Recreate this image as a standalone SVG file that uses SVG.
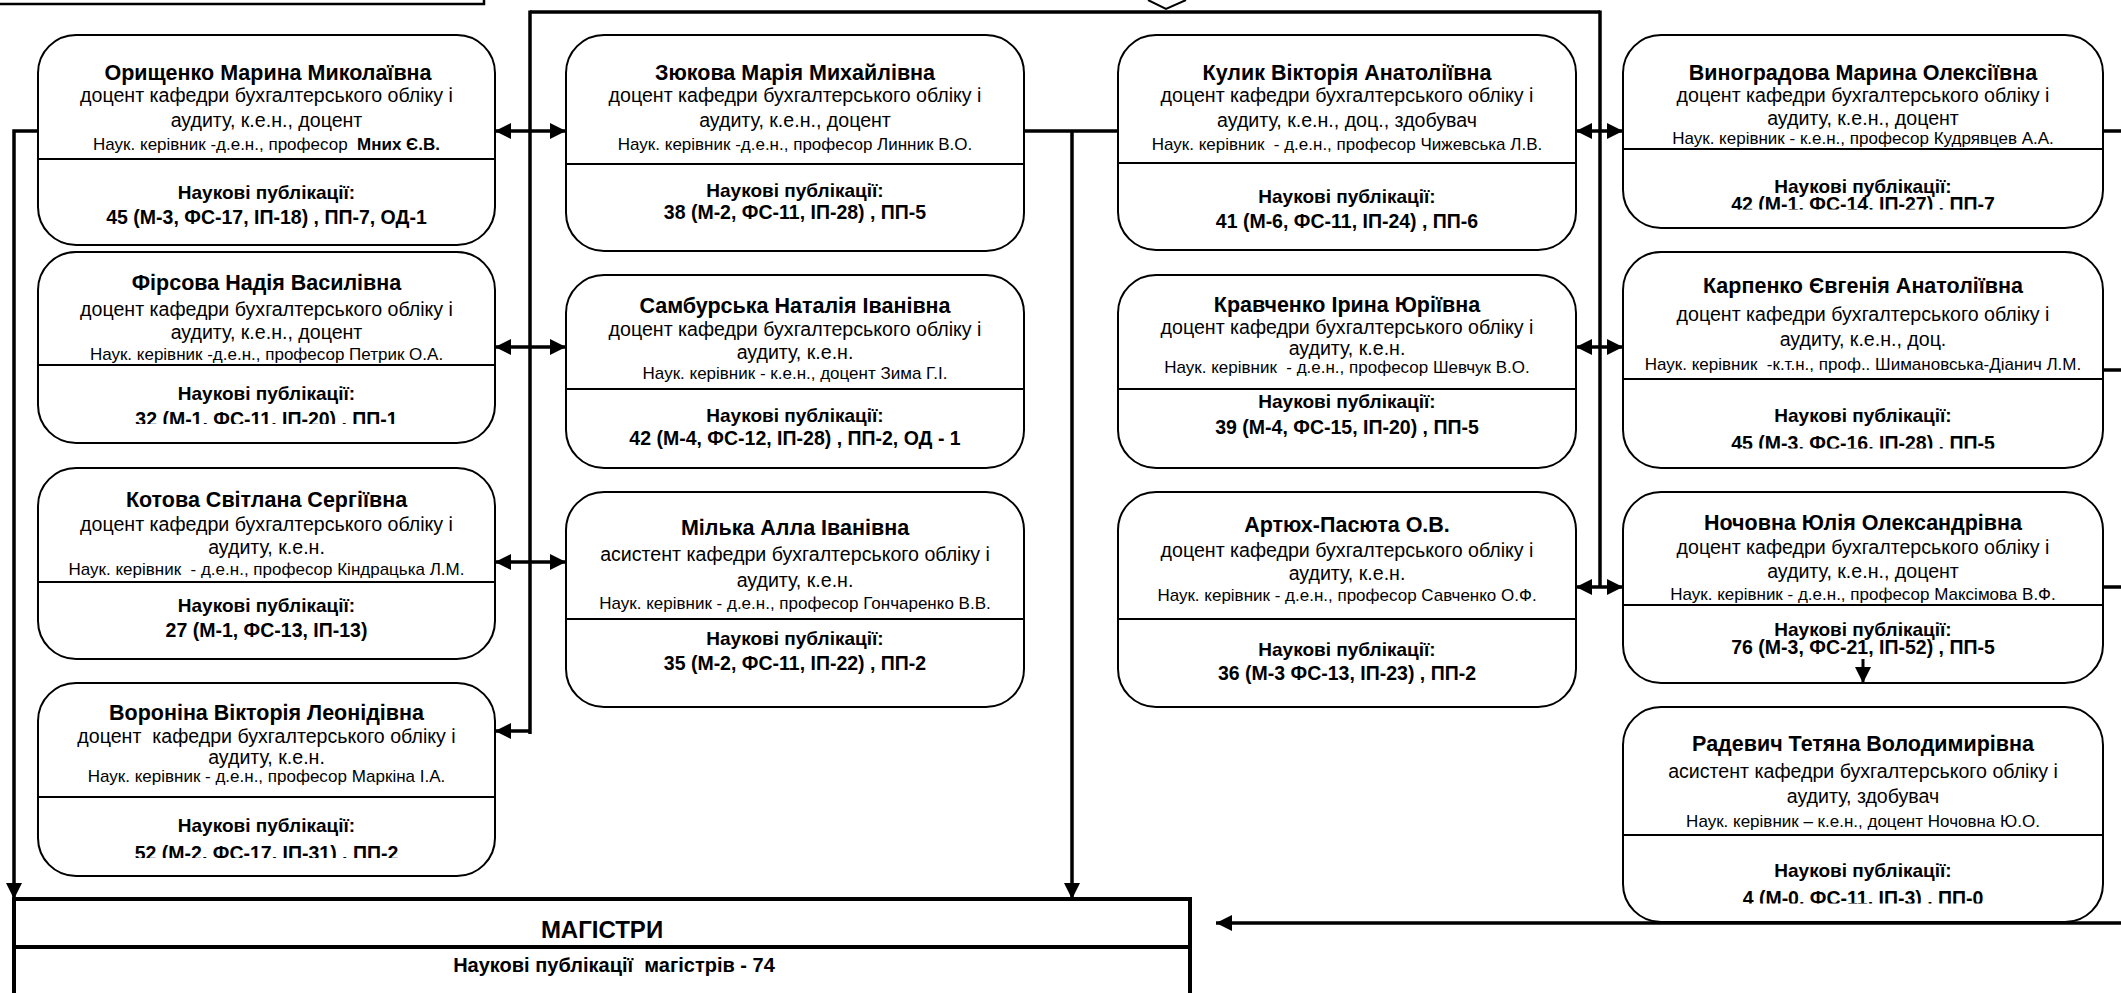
<svg xmlns="http://www.w3.org/2000/svg" width="2121" height="993" viewBox="0 0 2121 993">
<style>
text{white-space:pre;font-family:"Liberation Sans",Arial,sans-serif;text-anchor:middle;fill:#000}
.box{fill:#fff;stroke:#000;stroke-width:2}
.dv{stroke:#000;stroke-width:2}
.nm{font-size:21.5px;font-weight:bold}
.tx{font-size:19.6px}
.sv{font-size:17px}
.pt{font-size:19px;font-weight:bold}
.pn{font-size:19.5px;font-weight:bold}
.ln{fill:none;stroke:#000;stroke-width:3.5}
.b{font-weight:bold}
</style>
<defs>
<marker id="ah" markerUnits="userSpaceOnUse" markerWidth="16" markerHeight="16" refX="14" refY="7" orient="auto-start-reverse" viewBox="0 0 14 14">
<path d="M0,0 L14,7 L0,14 z" fill="#000"/>
</marker>
<clipPath id="c2"><rect x="38" y="365" width="458" height="59"/></clipPath>
<clipPath id="c4"><rect x="38" y="797" width="458" height="61"/></clipPath>
<clipPath id="c11"><rect x="1623" y="149" width="480" height="60.5"/></clipPath>
<clipPath id="c12"><rect x="1623" y="379" width="480" height="69.5"/></clipPath>
<clipPath id="c14"><rect x="1623" y="835" width="480" height="68.5"/></clipPath>
</defs>

<g id="top-box">
<rect x="-5" y="-60" width="489" height="64" fill="#fff" stroke="#000" stroke-width="2.5"/>
</g>
<g id="top-chevron">
<polyline points="1148,0 1166,9 1186,0" fill="none" stroke="#000" stroke-width="2"/>
</g>

<g id="connectors">
<polyline class="ln" points="530,12 1600,12"/>
<line class="ln" x1="530" y1="10.5" x2="530" y2="734"/>
<line class="ln" x1="1600" y1="10.5" x2="1600" y2="587"/>
<line class="ln" x1="495" y1="131" x2="566" y2="131" marker-start="url(#ah)" marker-end="url(#ah)"/>
<line class="ln" x1="495" y1="347" x2="566" y2="347" marker-start="url(#ah)" marker-end="url(#ah)"/>
<line class="ln" x1="495" y1="562" x2="566" y2="562" marker-start="url(#ah)" marker-end="url(#ah)"/>
<line class="ln" x1="530" y1="731" x2="495" y2="731" marker-end="url(#ah)"/>
<polyline class="ln" points="38,131 14,131 14,899" marker-end="url(#ah)"/>
<line class="ln" x1="1024" y1="131" x2="1118" y2="131"/>
<line class="ln" x1="1072" y1="131" x2="1072" y2="899" marker-end="url(#ah)"/>
<line class="ln" x1="1576" y1="131" x2="1623" y2="131" marker-start="url(#ah)" marker-end="url(#ah)"/>
<line class="ln" x1="1576" y1="347" x2="1623" y2="347" marker-start="url(#ah)" marker-end="url(#ah)"/>
<line class="ln" x1="1576" y1="587" x2="1623" y2="587" marker-start="url(#ah)" marker-end="url(#ah)"/>
<line class="ln" x1="2103" y1="131" x2="2121" y2="131"/>
<line class="ln" x1="2103" y1="370" x2="2121" y2="370"/>
<line class="ln" x1="2103" y1="587" x2="2121" y2="587"/>
<line class="ln" x1="2121" y1="923" x2="1216" y2="923" marker-end="url(#ah)"/>
</g>

<g id="n-oryshchenko">
<rect class="box" x="38" y="35" width="457" height="210" rx="38"/>
<line class="dv" x1="38" y1="159" x2="495" y2="159"/>
<text class="nm" x="268" y="80">Орищенко Марина Миколаївна</text>
<text class="tx" x="266.5" y="102">доцент кафедри бухгалтерського обліку і</text>
<text class="tx" x="266.5" y="127">аудиту, к.е.н., доцент</text>
<text class="sv" x="266.5" y="150">Наук. керівник -д.е.н., професор  <tspan class="b">Мних Є.В.</tspan></text>
<text class="pt" x="266.5" y="199">Наукові публікації:</text>
<text class="pn" x="266.5" y="224">45 (М-3, ФС-17, ІП-18) , ПП-7, ОД-1</text>
</g>

<g id="n-firsova">
<rect class="box" x="38" y="252" width="457" height="191" rx="38"/>
<line class="dv" x1="38" y1="365" x2="495" y2="365"/>
<text class="nm" x="266.5" y="290">Фірсова Надія Василівна</text>
<text class="tx" x="266.5" y="316">доцент кафедри бухгалтерського обліку і</text>
<text class="tx" x="266.5" y="339">аудиту, к.е.н., доцент</text>
<text class="sv" x="266.5" y="360">Наук. керівник -д.е.н., професор Петрик О.А.</text>
<text class="pt" x="266.5" y="400">Наукові публікації:</text>
<text class="pn" x="266.5" y="426" clip-path="url(#c2)">32 (М-1, ФС-11, ІП-20) , ПП-1</text>
</g>

<g id="n-kotova">
<rect class="box" x="38" y="468" width="457" height="191" rx="38"/>
<line class="dv" x1="38" y1="582" x2="495" y2="582"/>
<text class="nm" x="266.5" y="507">Котова Світлана Сергіївна</text>
<text class="tx" x="266.5" y="531">доцент кафедри бухгалтерського обліку і</text>
<text class="tx" x="266.5" y="554">аудиту, к.е.н.</text>
<text class="sv" x="266.5" y="575">Наук. керівник  - д.е.н., професор Кіндрацька Л.М.</text>
<text class="pt" x="266.5" y="612">Наукові публікації:</text>
<text class="pn" x="266.5" y="637">27 (М-1, ФС-13, ІП-13)</text>
</g>

<g id="n-voronina">
<rect class="box" x="38" y="683" width="457" height="193" rx="38"/>
<line class="dv" x1="38" y1="797" x2="495" y2="797"/>
<text class="nm" x="266.5" y="720">Вороніна Вікторія Леонідівна</text>
<text class="tx" x="266.5" y="743">доцент  кафедри бухгалтерського обліку і</text>
<text class="tx" x="266.5" y="764">аудиту, к.е.н.</text>
<text class="sv" x="266.5" y="782">Наук. керівник - д.е.н., професор Маркіна І.А.</text>
<text class="pt" x="266.5" y="832">Наукові публікації:</text>
<text class="pn" x="266.5" y="860" clip-path="url(#c4)">52 (М-2, ФС-17, ІП-31) , ПП-2</text>
</g>

<g id="n-ziukova">
<rect class="box" x="566" y="35" width="458" height="216" rx="38"/>
<line class="dv" x1="566" y1="164" x2="1024" y2="164"/>
<text class="nm" x="795" y="80">Зюкова Марія Михайлівна</text>
<text class="tx" x="795" y="102">доцент кафедри бухгалтерського обліку і</text>
<text class="tx" x="795" y="127">аудиту, к.е.н., доцент</text>
<text class="sv" x="795" y="150">Наук. керівник -д.е.н., професор Линник В.О.</text>
<text class="pt" x="795" y="197">Наукові публікації:</text>
<text class="pn" x="795" y="219">38 (М-2, ФС-11, ІП-28) , ПП-5</text>
</g>

<g id="n-samburska">
<rect class="box" x="566" y="275" width="458" height="193" rx="38"/>
<line class="dv" x1="566" y1="389" x2="1024" y2="389"/>
<text class="nm" x="795" y="313">Самбурська Наталія Іванівна</text>
<text class="tx" x="795" y="336">доцент кафедри бухгалтерського обліку і</text>
<text class="tx" x="795" y="359">аудиту, к.е.н.</text>
<text class="sv" x="795" y="379">Наук. керівник - к.е.н., доцент Зима Г.І.</text>
<text class="pt" x="795" y="422">Наукові публікації:</text>
<text class="pn" x="795" y="445">42 (М-4, ФС-12, ІП-28) , ПП-2, ОД - 1</text>
</g>

<g id="n-milka">
<rect class="box" x="566" y="492" width="458" height="215" rx="38"/>
<line class="dv" x1="566" y1="619" x2="1024" y2="619"/>
<text class="nm" x="795" y="535">Мілька Алла Іванівна</text>
<text class="tx" x="795" y="561">асистент кафедри бухгалтерського обліку і</text>
<text class="tx" x="795" y="587">аудиту, к.е.н.</text>
<text class="sv" x="795" y="609">Наук. керівник - д.е.н., професор Гончаренко В.В.</text>
<text class="pt" x="795" y="645">Наукові публікації:</text>
<text class="pn" x="795" y="670">35 (М-2, ФС-11, ІП-22) , ПП-2</text>
</g>

<g id="n-kulyk">
<rect class="box" x="1118" y="35" width="458" height="215" rx="38"/>
<line class="dv" x1="1118" y1="163" x2="1576" y2="163"/>
<text class="nm" x="1347" y="80">Кулик Вікторія Анатоліївна</text>
<text class="tx" x="1347" y="102">доцент кафедри бухгалтерського обліку і</text>
<text class="tx" x="1347" y="127">аудиту, к.е.н., доц., здобувач</text>
<text class="sv" x="1347" y="150">Наук. керівник  - д.е.н., професор Чижевська Л.В.</text>
<text class="pt" x="1347" y="203">Наукові публікації:</text>
<text class="pn" x="1347" y="228">41 (М-6, ФС-11, ІП-24) , ПП-6</text>
</g>

<g id="n-kravchenko">
<rect class="box" x="1118" y="275" width="458" height="193" rx="38"/>
<line class="dv" x1="1118" y1="389" x2="1576" y2="389"/>
<text class="nm" x="1347" y="312">Кравченко Ірина Юріївна</text>
<text class="tx" x="1347" y="334">доцент кафедри бухгалтерського обліку і</text>
<text class="tx" x="1347" y="355">аудиту, к.е.н.</text>
<text class="sv" x="1347" y="373">Наук. керівник  - д.е.н., професор Шевчук В.О.</text>
<text class="pt" x="1347" y="408">Наукові публікації:</text>
<text class="pn" x="1347" y="434">39 (М-4, ФС-15, ІП-20) , ПП-5</text>
</g>

<g id="n-artiukh-pasiuta">
<rect class="box" x="1118" y="492" width="458" height="215" rx="38"/>
<line class="dv" x1="1118" y1="619" x2="1576" y2="619"/>
<text class="nm" x="1347" y="532">Артюх-Пасюта О.В.</text>
<text class="tx" x="1347" y="557">доцент кафедри бухгалтерського обліку і</text>
<text class="tx" x="1347" y="580">аудиту, к.е.н.</text>
<text class="sv" x="1347" y="601">Наук. керівник - д.е.н., професор Савченко О.Ф.</text>
<text class="pt" x="1347" y="656">Наукові публікації:</text>
<text class="pn" x="1347" y="680">36 (М-3 ФС-13, ІП-23) , ПП-2</text>
</g>

<g id="n-vynohradova">
<rect class="box" x="1623" y="35" width="480" height="193" rx="38"/>
<line class="dv" x1="1623" y1="149" x2="2103" y2="149"/>
<text class="nm" x="1863" y="80">Виноградова Марина Олексіївна</text>
<text class="tx" x="1863" y="102">доцент кафедри бухгалтерського обліку і</text>
<text class="tx" x="1863" y="125">аудиту, к.е.н., доцент</text>
<text class="sv" x="1863" y="144">Наук. керівник - к.е.н., професор Кудрявцев А.А.</text>
<text class="pt" x="1863" y="193">Наукові публікації:</text>
<text class="pn" x="1863" y="211" clip-path="url(#c11)">42 (М-1, ФС-14, ІП-27) , ПП-7</text>
</g>

<g id="n-karpenko">
<rect class="box" x="1623" y="252" width="480" height="216" rx="38"/>
<line class="dv" x1="1623" y1="379" x2="2103" y2="379"/>
<text class="nm" x="1863" y="293">Карпенко Євгенія Анатоліївна</text>
<text class="tx" x="1863" y="321">доцент кафедри бухгалтерського обліку і</text>
<text class="tx" x="1863" y="346">аудиту, к.е.н., доц.</text>
<text class="sv" x="1863" y="370">Наук. керівник  -к.т.н., проф.. Шимановська-Діанич Л.М.</text>
<text class="pt" x="1863" y="422">Наукові публікації:</text>
<text class="pn" x="1863" y="450" clip-path="url(#c12)">45 (М-3, ФС-16, ІП-28) , ПП-5</text>
</g>

<g id="n-nochovna">
<rect class="box" x="1623" y="492" width="480" height="191" rx="38"/>
<line class="dv" x1="1623" y1="605" x2="2103" y2="605"/>
<text class="nm" x="1863" y="530">Ночовна Юлія Олександрівна</text>
<text class="tx" x="1863" y="554">доцент кафедри бухгалтерського обліку і</text>
<text class="tx" x="1863" y="578">аудиту, к.е.н., доцент</text>
<text class="sv" x="1863" y="600">Наук. керівник - д.е.н., професор Максімова В.Ф.</text>
<text class="pt" x="1863" y="636">Наукові публікації:</text>
<text class="pn" x="1863" y="654">76 (М-3, ФС-21, ІП-52) , ПП-5</text>
<line x1="1863" y1="659" x2="1863" y2="683" stroke="#000" stroke-width="3" marker-end="url(#ah)"/>
</g>

<g id="n-radevych">
<rect class="box" x="1623" y="707" width="480" height="215" rx="38"/>
<line class="dv" x1="1623" y1="835" x2="2103" y2="835"/>
<text class="nm" x="1863" y="751">Радевич Тетяна Володимирівна</text>
<text class="tx" x="1863" y="778">асистент кафедри бухгалтерського обліку і</text>
<text class="tx" x="1863" y="803">аудиту, здобувач</text>
<text class="sv" x="1863" y="827">Наук. керівник – к.е.н., доцент Ночовна Ю.О.</text>
<text class="pt" x="1863" y="877">Наукові публікації:</text>
<text class="pn" x="1863" y="905" clip-path="url(#c14)">4 (М-0, ФС-11, ІП-3) , ПП-0</text>
</g>

<g id="n-mahistry">
<rect x="14" y="899" width="1176" height="130" fill="#fff" stroke="#000" stroke-width="4"/>
<line x1="14" y1="947" x2="1190" y2="947" stroke="#000" stroke-width="4"/>
<text x="602" y="938" style="font-size:24px;font-weight:bold">МАГІСТРИ</text>
<text x="614" y="972" style="font-size:20px;font-weight:bold">Наукові публікації  магістрів - 74</text>
</g>
</svg>
